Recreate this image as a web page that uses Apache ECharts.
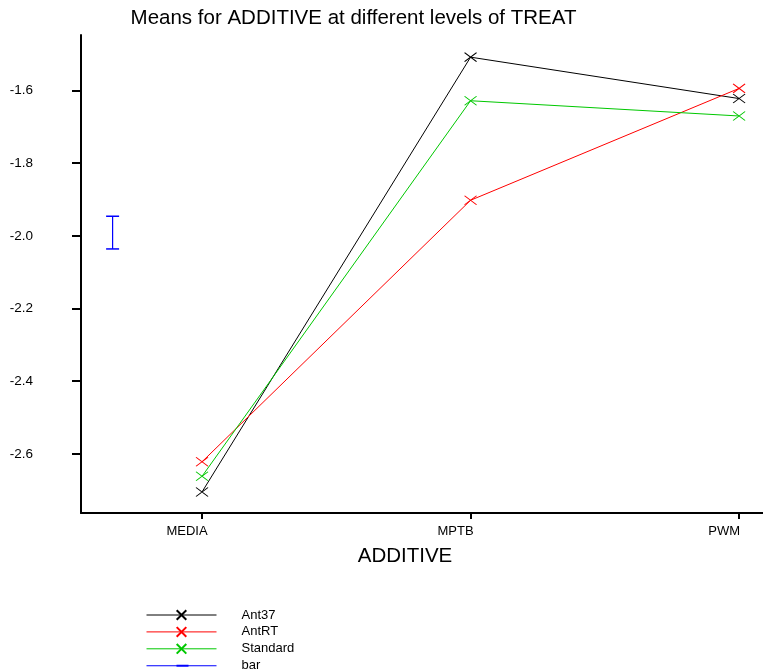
<!DOCTYPE html>
<html>
<head>
<meta charset="utf-8">
<script src="https://cdn.jsdelivr.net/npm/echarts@6/dist/echarts.min.js"></script>
<style>
  html, body { margin: 0; padding: 0; background: #fff; }
  #chart { width: 763px; height: 669px; }
</style>
</head>
<body>
<div id="chart"></div>
<script>
// Levels of ADDITIVE along the x axis
const additiveLevels = ['MEDIA', 'MPTB', 'PWM'];

// Means per TREAT level, one value per additive
const ant37 = [-2.705, -1.508, -1.622];
const antRT = [-2.622, -1.902, -1.594];
const standard = [-2.662, -1.628, -1.670];

// Reference error bar (position on the additive scale, upper and lower end)
const barPosition = -0.333;
const barEnds = [-1.946, -2.036];

// Tick labels
const yTicks = [-2.6, -2.4, -2.2, -2.0, -1.8, -1.6];
const xTicks = [0, 1, 2];

const FONT = 'Liberation Sans, Arial, sans-serif';
const crossSymbol = 'path://M0,0L12,9M0,9L12,0';

function toPoints(values) {
  return values.map((v, i) => [i, v]);
}

function meanSeries(name, values, color) {
  return {
    name: name,
    type: 'line',
    data: toPoints(values),
    symbol: crossSymbol,
    symbolSize: [12, 9],
    lineStyle: { color: color, width: 1 },
    itemStyle: { color: color, borderColor: color, borderWidth: 1 },
    emphasis: { disabled: true },
    z: 3
  };
}

const chart = echarts.init(document.getElementById('chart'), null, { renderer: 'canvas' });

chart.setOption({
  animation: false,
  backgroundColor: '#ffffff',
  textStyle: { fontFamily: FONT },
  title: {
    text: 'Means for ADDITIVE at different levels of TREAT',
    left: 353.5,
    top: 8,
    padding: 0,
    textAlign: 'center',
    textStyle: { fontFamily: FONT, fontSize: 20.5, fontWeight: 'normal', color: '#000' }
  },
  grid: { left: 81, right: 0, top: 35, bottom: 156, containLabel: false },
  xAxis: {
    type: 'value',
    min: -0.4507,
    max: 2.089,
    name: 'ADDITIVE',
    nameLocation: 'middle',
    nameGap: 33,
    nameTextStyle: { fontFamily: FONT, fontSize: 20.5, color: '#000', padding: [0, 34, 0, 0] },
    axisLine: { show: true, onZero: false, lineStyle: { color: '#000', width: 2 } },
    axisTick: { show: true, customValues: xTicks, length: 6, lineStyle: { color: '#000', width: 2 } },
    axisLabel: {
      customValues: xTicks,
      formatter: v => additiveLevels[Math.round(v)] || '',
      fontFamily: FONT,
      fontSize: 13,
      color: '#000',
      margin: 12,
      padding: [0, 30, 0, 0]
    },
    splitLine: { show: false }
  },
  yAxis: {
    type: 'value',
    min: -2.763,
    max: -1.447,
    axisLine: { show: true, onZero: false, lineStyle: { color: '#000', width: 2 } },
    axisTick: { show: true, customValues: yTicks, length: 9, lineStyle: { color: '#000', width: 2 } },
    axisLabel: {
      customValues: yTicks,
      formatter: v => v.toFixed(1),
      fontFamily: FONT,
      fontSize: 13.5,
      color: '#000',
      margin: 48
    },
    splitLine: { show: false }
  },
  legend: {
    orient: 'vertical',
    left: 146,
    top: 608.5,
    height: 70,
    padding: 0,
    itemWidth: 70,
    itemHeight: 12,
    itemGap: 3.9,
    lineStyle: { width: 1 },
    textStyle: { fontFamily: FONT, fontSize: 13, color: '#000', padding: [0, 0, 0, 20], lineHeight: 12.5 },
    data: [
      { name: 'Ant37' },
      { name: 'AntRT' },
      { name: 'Standard' },
      { name: 'bar', icon: 'path://M0,5.5H70V6.5H0Z M30,5H42V7H30Z' }
    ],
    selectedMode: false
  },
  series: [
    meanSeries('Ant37', ant37, '#000000'),
    meanSeries('AntRT', antRT, '#ff0000'),
    meanSeries('Standard', standard, '#00c800'),
    {
      name: 'bar',
      type: 'line',
      data: barEnds.map(v => [barPosition, v]),
      symbol: 'rect',
      symbolSize: [13, 1.5],
      lineStyle: { color: '#0000ff', width: 1.2 },
      itemStyle: { color: '#0000ff' },
      emphasis: { disabled: true },
      z: 2
    }
  ]
});
</script>
</body>
</html>
